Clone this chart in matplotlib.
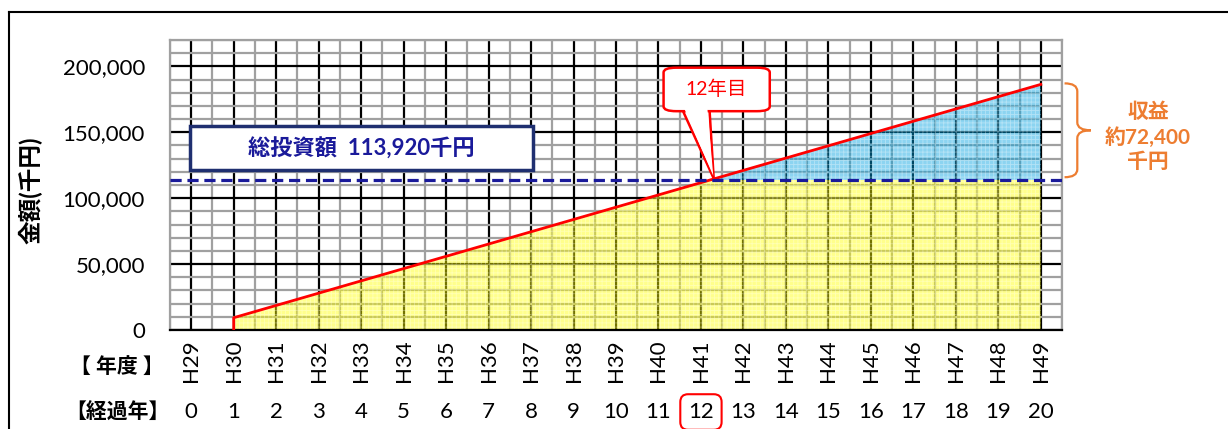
import numpy as np
import matplotlib.pyplot as plt
from matplotlib.patches import FancyBboxPatch, Polygon, PathPatch, Rectangle
from matplotlib.path import Path
from matplotlib.lines import Line2D
import matplotlib.transforms as mtransforms

plt.rcParams['font.family'] = ['Lato', 'Noto Sans CJK JP', 'DejaVu Sans']
plt.rcParams['hatch.linewidth'] = 0.6

# data
fiscal_years = ['H29', 'H30', 'H31', 'H32', 'H33', 'H34', 'H35', 'H36', 'H37', 'H38', 'H39',
                'H40', 'H41', 'H42', 'H43', 'H44', 'H45', 'H46', 'H47', 'H48', 'H49']
elapsed = [0, 1, 2, 3, 4, 5, 6, 7, 8, 9, 10, 11, 12, 13, 14, 15, 16, 17, 18, 19, 20]
rev_years = [1, 2, 3, 4, 5, 6, 7, 8, 9, 10, 11, 12, 13, 14, 15, 16, 17, 18, 19, 20]
cum_revenue = [9316, 18632, 27948, 37264, 46580, 55896, 65212, 74528, 83844, 93160,
               102476, 111792, 121108, 130424, 139740, 149056, 158372, 167688, 177004, 186320]
investment = 113920
payback_year = 12

navy = '#1a1a9a'
orange = '#ED7D31'
red = '#ff0000'

fig = plt.figure(figsize=(12.28, 4.29), dpi=100)
ax = fig.add_axes([170/1228, 99/429, 892/1228, 290/429])

x = np.array(rev_years)
y = np.array(cum_revenue)

# yellow area up to the investment level, blue above it (semi transparent so grid shows)
yel = ax.fill_between(x, 0, y, facecolor=(1, 1, 0, 0.45), edgecolor=(1, 1, 1, 0.35),
                      hatch='++++', lw=0, zorder=1)
clip = Rectangle((-0.5, 0), 21, investment, transform=ax.transData)
yel.set_clip_path(clip)
ax.fill_between(x, investment, y, where=y > investment, interpolate=True,
                facecolor=(0, 0.63, 0.88, 0.45), edgecolor=(1, 1, 1, 0.35),
                hatch='++++', lw=0, zorder=1)

# red revenue line (with vertical start at first year)
ax.plot([x[0]] + list(x), [0] + list(y), color=red, lw=2.0, zorder=3)

# investment dashed line
ax.axhline(investment, color=navy, lw=2.3, ls=(0, (3.5, 1.8)), zorder=3)

ax.set_xlim(-0.5, 20.5)
ax.set_ylim(0, 220000)
ax.set_xticks(range(len(fiscal_years)))
ax.set_xticklabels(fiscal_years, rotation=90, fontsize=16)
ax.set_xticks(np.arange(-0.5, 21, 1), minor=True)
ax.set_yticks([0, 50000, 100000, 150000, 200000])
ax.set_yticklabels(['{:,}'.format(v) for v in [0, 50000, 100000, 150000, 200000]], fontsize=16)
ax.set_yticks(np.arange(0, 220001, 10000), minor=True)
ax.tick_params(axis='both', which='both', length=0)
ax.tick_params(axis='y', pad=18)
ax.tick_params(axis='x', pad=7)

ax.set_axisbelow(True)
ax.grid(which='minor', color='#a0a0a0', lw=1.6)
ax.grid(which='major', color='black', lw=1.6)
for s in ['top', 'right', 'left']:
    ax.spines[s].set_color('#a0a0a0')
    ax.spines[s].set_linewidth(1.6)
ax.spines['bottom'].set_color('black')
ax.spines['bottom'].set_linewidth(1.6)

# second row of labels: elapsed years
trans = mtransforms.blended_transform_factory(ax.transData, fig.transFigure)
for i, e in enumerate(elapsed):
    if e == payback_year:
        ax.text(i, 17/429, str(e), transform=trans, ha='center', va='center', fontsize=16,
                bbox=dict(boxstyle='round,pad=0.35,rounding_size=0.35', fc='white', ec=red, lw=1.5))
    else:
        ax.text(i, 17/429, str(e), transform=trans, ha='center', va='center', fontsize=16)

fig.text(117/1228, 1 - 367/429, '【 年度 】', ha='center', va='center', fontsize=15, fontweight='bold')
fig.text(117/1228, 1 - 413/429, '【経過年】', ha='center', va='center', fontsize=15, fontweight='bold')
fig.text(30/1228, 1 - 190/429, '金額(千円)', ha='center', va='center', rotation=90,
         fontsize=17, fontweight='bold')

# total investment box
box = FancyBboxPatch((-0.02, 121200), 8.07, 33300, boxstyle='square,pad=0',
                     fc='white', ec='#1f2f70', lw=2.5, zorder=5)
ax.add_patch(box)
ax.text(4.0, 137900, '総投資額  113,920千円', ha='center', va='center', color=navy,
        fontsize=16, fontweight='bold', zorder=6)

# callout "12年目"
tip = (12.3, 115000)
wedge = Polygon([(11.55, 168000), tip, (12.2, 168000)], closed=True,
                fc='white', ec=red, lw=1.8, zorder=5, joinstyle='miter')
ax.add_patch(wedge)
call = FancyBboxPatch((11.12, 166000), 2.5, 33000, boxstyle='round,pad=0,rounding_size=0.3',
                      fc='white', ec=red, lw=1.8, zorder=6, mutation_aspect=12000)
ax.add_patch(call)
cover = Polygon([(11.6, 168500), (12.29, 117000), (12.15, 168500)], closed=True,
                fc='white', ec='none', zorder=7)
ax.add_patch(cover)
ax.text(12.37, 183000, '12年目', ha='center', va='center', color=red, fontsize=14, zorder=8)

# brace on the right
xl, xm, xr = 20.56, 20.86, 21.18
yt, ymid, yb = 187100, 151500, 115900
r = 6000
verts = [(xl, yt), (xm, yt), (xm, yt - r),
         (xm, ymid + r),
         (xm, ymid), (xr, ymid),
         (xm, ymid), (xm, ymid - r),
         (xm, yb + r),
         (xm, yb), (xl, yb)]
codes = [Path.MOVETO, Path.CURVE3, Path.CURVE3,
         Path.LINETO,
         Path.CURVE3, Path.CURVE3,
         Path.CURVE3, Path.CURVE3,
         Path.LINETO,
         Path.CURVE3, Path.CURVE3]
ax.add_patch(PathPatch(Path(verts, codes), fc='none', ec=orange, lw=1.6, clip_on=False))
fig.text(1148/1228, 1 - 137/429, '収益\n約72,400\n千円', ha='center', va='center', color=orange,
         fontsize=15, fontweight='bold', linespacing=1.3)

# outer frame
fig.add_artist(Line2D([9/1228, 9/1228], [0, 1 - 12/429], transform=fig.transFigure, color='black', lw=1.5))
fig.add_artist(Line2D([9/1228, 1], [1 - 12/429, 1 - 12/429], transform=fig.transFigure, color='black', lw=1.5))

fig.savefig('out.png', dpi=100)
